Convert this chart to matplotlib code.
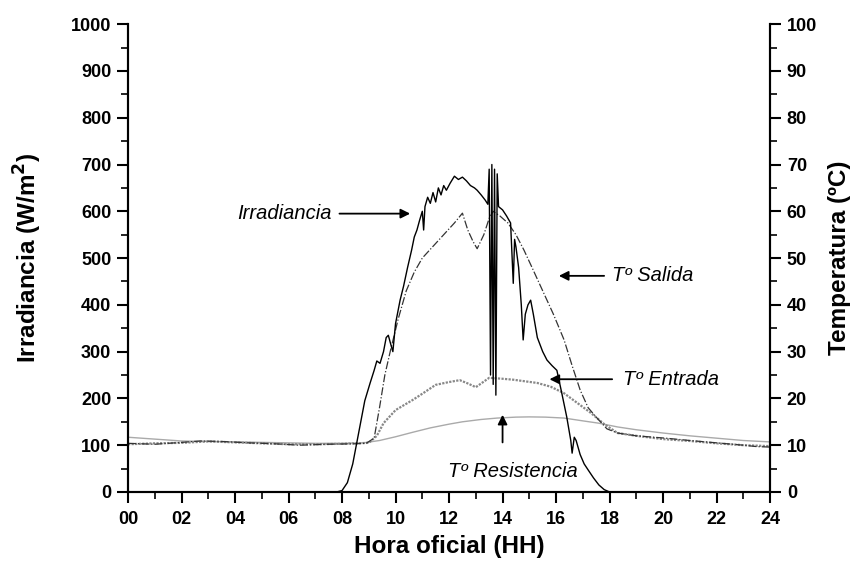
import numpy as np
import matplotlib
matplotlib.use("Agg")
from matplotlib import pyplot as plt
from matplotlib.ticker import MultipleLocator

plt.rcParams['font.family'] = ['Liberation Sans', 'DejaVu Sans']

# irradiancia (W/m2)
hIrr = [0, 7.8, 8.0, 8.2, 8.4, 8.55, 8.7, 8.85, 9.05, 9.2, 9.3, 9.42, 9.55, 9.65, 9.73, 9.8, 9.9,
        10.0, 10.17, 10.3, 10.45, 10.6, 10.7, 10.8, 10.9, 11.0, 11.05, 11.1, 11.2, 11.3, 11.4, 11.5,
        11.6, 11.7, 11.8, 11.9, 12.04, 12.2, 12.35, 12.5, 12.65, 12.8, 12.95, 13.05, 13.2, 13.35,
        13.45, 13.5, 13.55, 13.6, 13.65, 13.7, 13.75, 13.8, 13.85, 14.0, 14.15, 14.3, 14.4, 14.45,
        14.5, 14.6, 14.7, 14.77, 14.85, 14.95, 15.05, 15.15, 15.3, 15.5, 15.66, 15.85, 16.03, 16.2,
        16.4, 16.55, 16.6, 16.68, 16.75, 16.9, 17.05, 17.2, 17.4, 17.6, 17.8, 18.0, 24]
irr = [0, 0, 3, 20, 60, 105, 150, 195, 233, 260, 280, 275, 300, 330, 335, 320, 300,
       360, 410, 440, 480, 517, 545, 560, 581, 600, 560, 610, 630, 617, 640, 620,
       650, 635, 655, 645, 660, 675, 668, 673, 665, 655, 650, 645, 635, 624,
       615, 690, 250, 700, 230, 690, 207, 680, 610, 603, 590, 575, 446, 540,
       524, 480, 400, 325, 380, 400, 410, 380, 330, 300, 282, 270, 260, 215,
       160, 110, 83, 117, 110, 80, 60, 47, 30, 15, 5, 0, 0]

# temperaturas (ºC)
hSal = [0, 1, 2, 2.7, 3.5, 4.5, 5.5, 6.4, 7.5, 8.5, 8.9, 9.2, 9.4, 9.6, 9.8, 10.1, 10.4, 10.7,
        11.0, 11.4, 11.8, 12.2, 12.5, 12.7, 12.9, 13.05, 13.3, 13.5, 13.65, 13.9, 14.2, 14.5,
        14.8, 15.1, 15.5, 15.9, 16.3, 16.6, 16.9, 17.2, 17.5, 17.9, 18.3, 19, 20.1, 21, 22, 23,
        23.5, 24]
tSal = [10.4, 10.2, 10.6, 10.9, 10.8, 10.5, 10.3, 10.0, 10.2, 10.3, 10.4, 11.5, 18, 25, 30, 37,
        43, 47, 50, 52.5, 55, 57.5, 59.6, 56, 53.5, 52, 55, 58.5, 60, 59, 57.5, 55,
        51.7, 48, 43, 38, 32.5, 27, 21.8, 18, 16, 13.5, 12.6, 12.0, 11.5, 11.0, 10.5, 10.0,
        9.7, 9.6]

hEnt = [0, 1, 2, 3, 4, 5, 6, 7, 8, 9, 9.3, 9.55, 10.0, 10.65, 11.0, 11.5, 12.0, 12.4, 12.7,
        13.0, 13.5, 14.0, 14.4, 15.3, 15.8, 16.3, 16.8, 17.3, 17.8, 18.3, 19, 20, 21, 22, 23, 24]
tEnt = [10.2, 10.4, 10.5, 10.8, 10.6, 10.4, 10.2, 10.2, 10.3, 10.5, 12, 14.7, 17.5, 19.7, 21,
        22.9, 23.5, 23.9, 23.2, 22.4, 24.4, 24.2, 24, 23.3, 22.5, 21.1, 19, 16.9, 14.5, 12.6,
        12, 11.3, 10.9, 10.4, 10, 9.8]

hRes = [0, 1, 2, 3, 4, 5, 6, 7, 8, 8.8, 9.4, 10, 10.6, 11.3, 12, 12.5, 13.2, 13.8, 14.5, 15,
        15.6, 16.3, 17, 17.6, 18.3, 19, 20, 21, 22, 23, 24]
tRes = [11.7, 11.3, 10.9, 10.8, 10.7, 10.6, 10.5, 10.4, 10.4, 10.5, 11.0, 11.8, 12.7, 13.7,
        14.5, 15, 15.5, 15.8, 16.0, 16.05, 16.0, 15.8, 15.2, 14.7, 13.9, 13.3, 12.6, 12.0,
        11.5, 11.0, 10.7]

xticks = np.arange(0, 25, 2)
xlabels = ["%02d" % h for h in xticks]

fig = plt.figure(figsize=(8.5, 5.62), dpi=100)
ax = fig.add_axes([0.1506, 0.1246, 0.7554, 0.8324])
ax2 = ax.twinx()

ax2.plot(hRes, tRes, color='#aaaaaa', lw=1.0)
ax2.plot(hEnt, tEnt, color='#888888', lw=1.6, ls=(0, (1, 0.6)))
ax2.plot(hSal, tSal, color='#333333', lw=0.9, ls='-.')
ax.plot(hIrr, irr, color='black', lw=1.0, zorder=5)
ax.set_zorder(ax2.get_zorder() + 1)
ax.patch.set_visible(False)

ax.set_xlim(0, 24)
ax.set_ylim(0, 1000)
ax2.set_ylim(0, 100)
ax.set_xticks(xticks)
ax.set_xticklabels(xlabels)
ax.xaxis.set_minor_locator(MultipleLocator(1))
ax.yaxis.set_major_locator(MultipleLocator(100))
ax.yaxis.set_minor_locator(MultipleLocator(50))
ax2.yaxis.set_major_locator(MultipleLocator(10))
ax2.yaxis.set_minor_locator(MultipleLocator(5))

for a in (ax, ax2):
    a.spines['top'].set_visible(False)
    for s in a.spines.values():
        s.set_linewidth(1.5)
    a.tick_params(which='major', direction='out', length=8, width=1.5, labelsize=13, pad=4)
    a.tick_params(which='minor', direction='out', length=5, width=1.2)
    for lab in a.get_xticklabels() + a.get_yticklabels():
        lab.set_fontweight('bold')
ax.tick_params(axis='x', which='major', pad=6)

ax.set_xlabel("Hora oficial (HH)", fontsize=17.5, fontweight='bold')
ax.set_ylabel("Irradiancia (W/m$^\\mathbf{2}$)", fontsize=17.5, fontweight='bold')
ax2.set_ylabel("Temperatura (ºC)", fontsize=17.5, fontweight='bold', rotation=90)
ax.xaxis.set_label_coords(0.5, -0.092)
ax.yaxis.set_label_coords(-0.131, 0.5)
ax2.yaxis.set_label_coords(1.090, 0.5)

arr = dict(arrowstyle='-|>', color='black', lw=1.3, mutation_scale=14)
fs = 14.5
ax.text(7.62, 595, "Irradiancia", style='italic', fontsize=fs, ha='right', va='center')
ax.annotate('', xy=(10.65, 595), xytext=(7.8, 595), arrowprops=arr)
ax.text(18.1, 462, "Tº Salida", style='italic', fontsize=fs, ha='left', va='center')
ax.annotate('', xy=(16.0, 462), xytext=(17.9, 462), arrowprops=arr)
ax.text(18.5, 241, "Tº Entrada", style='italic', fontsize=fs, ha='left', va='center')
ax.annotate('', xy=(15.65, 241), xytext=(18.2, 241), arrowprops=arr)
ax.text(14.4, 43, "Tº Resistencia", style='italic', fontsize=fs, ha='center', va='center')
ax.annotate('', xy=(14.0, 171), xytext=(14.0, 100), arrowprops=arr)

fig.savefig("out.png", dpi=100)
